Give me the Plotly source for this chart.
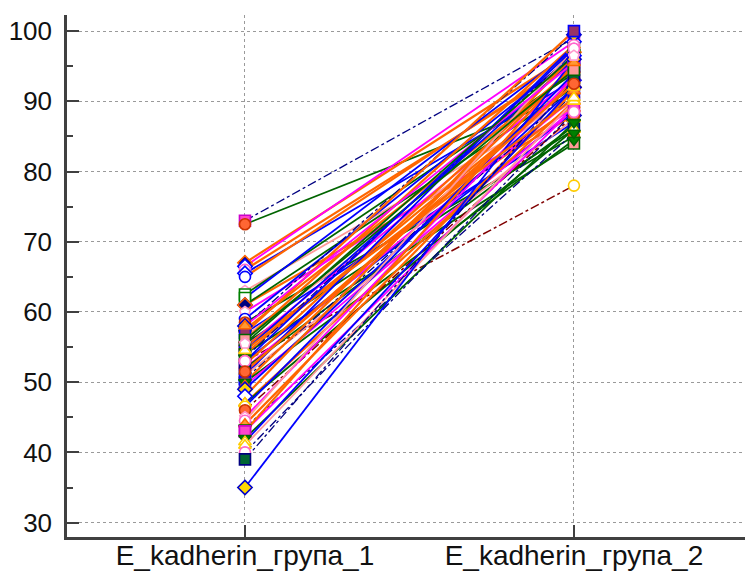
import plotly.graph_objects as go

categories = ["E_kadherin_група_1", "E_kadherin_група_2"]
y_ticks = [30, 40, 50, 60, 70, 80, 90, 100]

# paired values (group 1 -> group 2), one entry per subject
grupa_1 = [73.0, 72.5, 67.0, 66.5, 66.0, 65.5, 65.0, 63.0, 62.5, 62.0,
           61.0, 61.0, 60.0, 59.0, 58.5, 58.0, 57.5, 57.0, 56.5, 56.0,
           55.5, 55.0, 55.0, 54.5, 54.0, 54.0, 53.5, 53.0, 53.0, 52.5,
           52.0, 52.0, 51.5, 51.0, 51.0, 50.5, 50.0, 50.0, 49.5, 49.0,
           48.0, 47.0, 47.0, 46.5, 46.0, 45.0, 44.5, 44.0, 43.5, 43.0,
           43.0, 42.0, 41.5, 41.0, 40.0, 39.0, 35.0, 57.0, 56.0, 54.5,
           53.0, 58.0, 51.5, 55.5]
grupa_2 = [99.0, 91.0, 97.0, 98.5, 95.5, 93.0, 96.0, 90.0, 94.0, 97.5,
           88.0, 92.0, 89.0, 96.5, 85.0, 99.5, 94.5, 87.0, 91.5, 98.0,
           86.0, 93.5, 89.5, 96.0, 84.0, 92.5, 97.0, 78.0, 88.5, 95.0,
           90.5, 86.5, 93.0, 98.0, 87.5, 91.0, 95.0, 84.5, 89.0, 92.0,
           96.5, 90.0, 86.0, 94.0, 88.0, 93.5, 97.5, 91.5, 85.5, 89.0,
           95.5, 87.0, 92.0, 90.0, 88.5, 93.0, 96.0, 100.0, 94.5, 90.5,
           97.5, 95.5, 92.5, 96.5]

# style indices per subject (line style, marker style)
line_idx = [0, 1, 2, 3, 2, 4, 2, 5, 1, 4,
            2, 1, 3, 4, 1, 0, 2, 4, 5, 2,
            1, 3, 2, 4, 1, 2, 0, 6, 4, 2,
            3, 1, 2, 4, 5, 0, 2, 1, 3, 4,
            2, 2, 1, 4, 6, 3, 5, 2, 0, 3,
            2, 1, 4, 5, 0, 0, 4, 2, 1, 2,
            4, 3, 2, 1]
marker_idx = [4, 7, 13, 5, 2, 5, 15, 12, 16, 16,
              9, 13, 12, 15, 7, 9, 1, 3, 12, 1,
              6, 4, 6, 0, 10, 2, 3, 11, 7, 4,
              7, 8, 6, 2, 6, 0, 0, 3, 1, 9,
              5, 1, 6, 11, 7, 12, 2, 1, 3, 4,
              4, 3, 6, 6, 2, 8, 9, 0, 10, 6,
              2, 1, 7, 12]

LINE_STYLES = [
    ("#000080", "dashdot", 1.3),
    ("#006400", "solid", 1.8),
    ("#ff6600", "solid", 2.2),
    ("#ff00ff", "solid", 1.8),
    ("#0000ff", "solid", 1.8),
    ("#ff9999", "solid", 1.8),
    ("#800000", "dashdot", 1.5),
]
MARKER_STYLES = [
    ("square", "#993366", "#0000ff"),
    ("triangle-up", "#ff9933", "#ff6600"),
    ("circle", "#ffffff", "#ff66cc"),
    ("triangle-down", "#008000", "#006400"),
    ("square", "#ff44cc", "#cc00cc"),
    ("diamond", "#ffffff", "#0000ff"),
    ("triangle-up", "#ffffff", "#ffcc00"),
    ("circle", "#ff6633", "#cc3300"),
    ("square", "#006633", "#000080"),
    ("diamond", "#ffd700", "#0000cc"),
    ("square", "#ff9999", "#006400"),
    ("circle", "#ffffff", "#ffcc00"),
    ("pentagon", "#ffffff", "#ff99cc"),
    ("diamond", "#000080", "#ff6600"),
    ("circle", "#ffffff", "#0000ff"),
    ("circle", "#ffffff", "#0000ff"),
    ("square", "#ffffff", "#008000"),
]

fig = go.Figure()

for a, b, li in zip(grupa_1, grupa_2, line_idx):
    col, dash, w = LINE_STYLES[li]
    fig.add_trace(go.Scatter(
        x=[0, 1], y=[a, b], mode="lines",
        line=dict(color=col, dash=dash, width=w),
        hoverinfo="skip", showlegend=False))

xs, ys, syms, fills, outs = [], [], [], [], []
for a, b, mi in zip(grupa_1, grupa_2, marker_idx):
    s, f, o = MARKER_STYLES[mi]
    for xv, yv in ((0, a), (1, b)):
        xs.append(xv); ys.append(yv)
        syms.append(s); fills.append(f); outs.append(o)

fig.add_trace(go.Scatter(
    x=xs, y=ys, mode="markers",
    marker=dict(symbol=syms, color=fills, size=11,
                line=dict(color=outs, width=1.6)),
    showlegend=False))

xfont = dict(family="Liberation Sans, Arial, sans-serif", size=28, color="#111111")
yfont = dict(family="Liberation Sans, Arial, sans-serif", size=26, color="#111111")

fig.update_layout(
    width=745, height=575,
    margin=dict(l=67, r=0, t=15, b=38),
    paper_bgcolor="white", plot_bgcolor="white",
    showlegend=False,
    font=xfont,
)
fig.update_xaxes(
    range=[-0.541, 1.52], automargin=False,
    tickvals=[0, 1], ticktext=categories,
    showline=True, linecolor="#404040", linewidth=2.5,
    ticks="inside", ticklen=12, tickwidth=2, tickcolor="#404040",
    showgrid=True, gridcolor="#9a9a9a", griddash="dot", gridwidth=1,
    zeroline=False, tickfont=xfont, ticklabelstandoff=-8,
)
fig.update_yaxes(
    range=[27.95, 102.3], automargin=False,
    tickvals=y_ticks,
    showline=True, linecolor="#404040", linewidth=2.5,
    ticks="inside", ticklen=12, tickwidth=2, tickcolor="#404040",
    minor=dict(ticks="inside", ticklen=6, tickwidth=1.5, tickcolor="#404040",
               dtick=5, showgrid=False),
    showgrid=True, gridcolor="#9a9a9a", griddash="dot", gridwidth=1,
    zeroline=False, tickfont=yfont, ticklabelstandoff=7,
)

fig.write_html("out.html")
